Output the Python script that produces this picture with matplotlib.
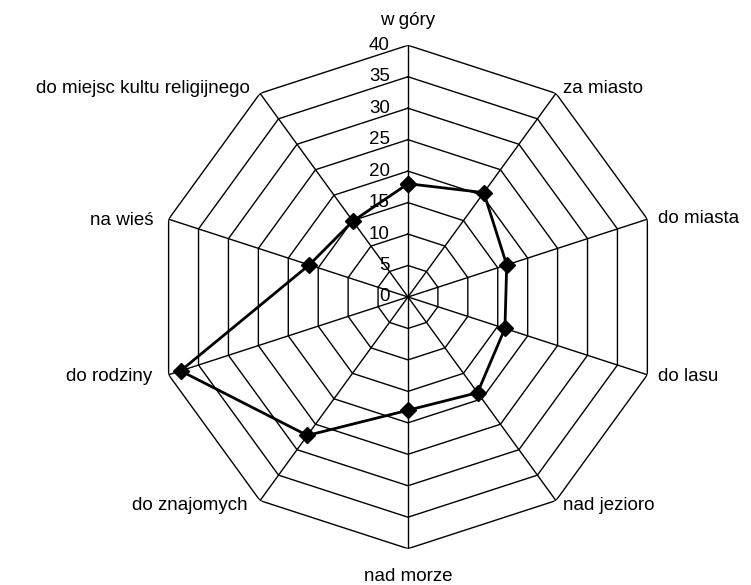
import numpy as np
import matplotlib
matplotlib.use("Agg")
import matplotlib.pyplot as plt

plt.rcParams["font.family"] = ["Liberation Sans", "DejaVu Sans"]

categories = ["w góry", "za miasto", "do miasta", "do lasu", "nad jezioro",
              "nad morze", "do znajomych", "do rodziny", "na wieś",
              "do miejsc kultu religijnego"]
values = [18, 20.5, 16.5, 16.2, 18.8, 18, 27.2, 38, 16.5, 14.9]
rings = [5, 10, 15, 20, 25, 30, 35, 40]
tick_labels = ["0", "5", "10", "15", "20", "25", "30", "35", "40"]

# label offsets in pixels (dx, dy, ha)
label_pos = [
    (0, 25, "center"),
    (7, 5, "left"),
    (11, 1, "left"),
    (11, -2, "left"),
    (7, -5, "left"),
    (0, -28, "center"),
    (-12, -5, "right"),
    (-16, -2, "right"),
    (-15, -1, "right"),
    (-10, 5, "right"),
]

n = len(categories)
theta = np.arange(n) * 2 * np.pi / n
theta_c = np.append(theta, theta[0])

fig = plt.figure(figsize=(7.51, 5.85), dpi=100)
ax = fig.add_axes([0.2081, 0.0621, 0.6703, 0.8605], projection="polar")
ax.set_theta_zero_location("N")
ax.set_theta_direction(-1)
ax.set_ylim(0, 40)
ax.grid(False)
ax.spines["polar"].set_visible(False)
ax.set_xticks([])
ax.set_yticks([])

# polygon rings
for r in rings:
    ax.plot(theta_c, [r] * (n + 1), color="black", lw=1)
# spokes
for t in theta:
    ax.plot([t, t], [0, 40], color="black", lw=1)

# data
vals_c = values + values[:1]
ax.plot(theta_c, vals_c, color="black", lw=2, marker="D", markersize=8.5,
        zorder=5)

# radial tick labels
for i, lab in enumerate(tick_labels):
    ax.annotate(lab, xy=(0, i * 5), xytext=(-18, 0), textcoords="offset pixels",
                ha="right", va="center", fontsize=13.5, annotation_clip=False)

# category labels
for t, lab, (dx, dy, ha) in zip(theta, categories, label_pos):
    ax.annotate(lab, xy=(t, 40), xytext=(dx, dy), textcoords="offset pixels",
                ha=ha, va="center", fontsize=13.5, annotation_clip=False)

fig.savefig("out.png", dpi=100)
